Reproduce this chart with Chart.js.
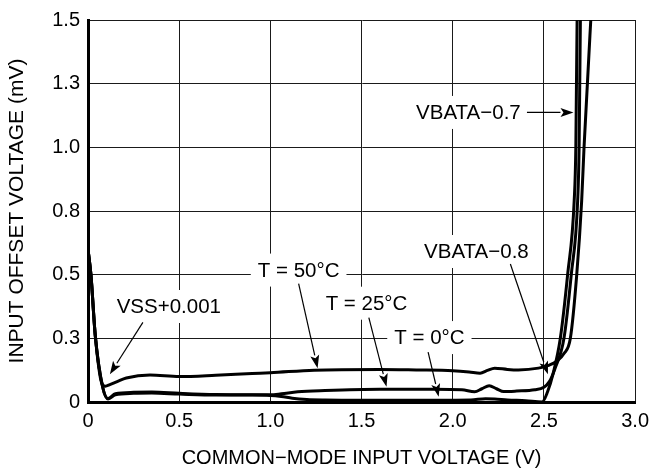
<!DOCTYPE html>
<html><head><meta charset="utf-8">
<script src="https://cdn.jsdelivr.net/npm/chart.js@4.4.1/dist/chart.umd.min.js"></script>
<style>html,body{margin:0;padding:0;background:#fff;overflow:hidden}#wrap{width:656px;height:468px}</style>
</head><body><div id="wrap"><canvas id="c" width="656" height="468"></canvas></div>
<script>
// ---- tick values / labels ----
const xTickValues = [0, 0.5, 1.0, 1.5, 2.0, 2.5, 3.0];
const xTickLabels = ['0', '0.5', '1.0', '1.5', '2.0', '2.5', '3.0'];
const yTickValues = [0, 0.25, 0.5, 0.75, 1.0, 1.25, 1.5];
const yTickLabels = ['0', '0.3', '0.5', '0.8', '1.0', '1.3', '1.5'];

// ---- series (x = common-mode input voltage V, y = input offset voltage mV) ----
const t0X = [0, 0.016, 0.04, 0.08, 0.11, 0.15, 0.25, 0.35, 0.5, 0.7, 0.9, 1.0, 1.06, 1.12, 1.2, 1.3, 1.5, 1.7, 1.9, 2.1, 2.18, 2.23, 2.3, 2.4, 2.49, 2.52, 2.55, 2.59, 2.63, 2.666, 2.675, 2.682, 2.686];
const t0Y = [0.6, 0.5, 0.26, 0.06, 0.012, 0.028, 0.034, 0.035, 0.031, 0.027, 0.027, 0.026, 0.022, 0.015, 0.01, 0.008, 0.007, 0.007, 0.007, 0.008, 0.013, 0.012, 0.008, 0.005, 0.0, 0.04, 0.11, 0.25, 0.5, 0.79, 1.0, 1.5, 1.6];

const t25X = [0, 0.016, 0.04, 0.08, 0.11, 0.15, 0.25, 0.35, 0.5, 0.7, 0.9, 1.0, 1.06, 1.15, 1.3, 1.6, 1.9, 2.05, 2.12, 2.16, 2.2, 2.24, 2.28, 2.35, 2.45, 2.5, 2.53, 2.56, 2.61, 2.65, 2.685, 2.693, 2.70, 2.704];
const t25Y = [0.6, 0.5, 0.26, 0.06, 0.014, 0.033, 0.038, 0.039, 0.034, 0.029, 0.028, 0.028, 0.032, 0.04, 0.045, 0.05, 0.05, 0.048, 0.04, 0.052, 0.064, 0.052, 0.041, 0.043, 0.048, 0.058, 0.08, 0.13, 0.25, 0.5, 0.79, 1.0, 1.5, 1.6];

const t50X = [0, 0.016, 0.04, 0.075, 0.095, 0.12, 0.16, 0.21, 0.34, 0.5, 0.7, 0.9, 1.0, 1.24, 1.6, 1.8, 2.0, 2.09, 2.15, 2.19, 2.23, 2.3, 2.36, 2.47, 2.53, 2.57, 2.61, 2.645, 2.68, 2.707, 2.72, 2.757, 2.765];
const t50Y = [0.6, 0.5, 0.26, 0.075, 0.062, 0.068, 0.08, 0.094, 0.106, 0.10, 0.105, 0.112, 0.115, 0.125, 0.128, 0.126, 0.123, 0.118, 0.113, 0.124, 0.133, 0.128, 0.126, 0.133, 0.145, 0.16, 0.19, 0.25, 0.5, 0.79, 1.0, 1.5, 1.6];

// ---- annotations (data coordinates) ----
const annoText  = ['VSS+0.001', 'T = 50\u00B0C', 'T = 25\u00B0C', 'T = 0\u00B0C', 'VBATA\u22120.8', 'VBATA\u22120.7'];
const annoTextX = [0.443, 1.155, 1.527, 1.872, 2.13, 2.086];
const annoTextY = [0.375, 0.518, 0.388, 0.253, 0.591, 1.137];
const arrowFromX = [0.301, 1.155, 1.54, 1.865, 2.316, 2.407];
const arrowFromY = [0.3125, 0.465, 0.331, 0.196, 0.542, 1.137];
const arrowToX   = [0.120, 1.259, 1.637, 1.923, 2.522, 2.662];
const arrowToY   = [0.109, 0.133, 0.060, 0.021, 0.109, 1.137];

const FONT = "'Liberation Sans', Arial, Helvetica, sans-serif";
const toPts = (xs, ys) => xs.map((x, i) => ({x: x, y: ys[i]}));

const annoPlugin = {
  id: 'anno',
  afterDatasetsDraw(chart) {
    const ctx = chart.ctx, xs = chart.scales.x, ys = chart.scales.y;
    ctx.save();
    ctx.font = "20.5px " + FONT;
    ctx.textAlign = 'center';
    ctx.textBaseline = 'middle';
    annoText.forEach((t, i) => {
      const cx = xs.getPixelForValue(annoTextX[i]);
      const cy = ys.getPixelForValue(annoTextY[i]);
      const w = ctx.measureText(t).width + 14;
      ctx.fillStyle = '#fff';
      ctx.fillRect(cx - w / 2, cy - 16.5, w, 33);
    });
    annoText.forEach((t, i) => {
      const cx = xs.getPixelForValue(annoTextX[i]);
      const cy = ys.getPixelForValue(annoTextY[i]);
      ctx.fillStyle = '#000';
      ctx.fillText(t, cx, cy + 1);
    });
    arrowFromX.forEach((fx, i) => {
      const x1 = xs.getPixelForValue(fx), y1 = ys.getPixelForValue(arrowFromY[i]);
      const x2 = xs.getPixelForValue(arrowToX[i]), y2 = ys.getPixelForValue(arrowToY[i]);
      const a = Math.atan2(y2 - y1, x2 - x1);
      const L = 13, H = 4.5;
      const bx = x2 - L * Math.cos(a), by = y2 - L * Math.sin(a);
      ctx.strokeStyle = '#000';
      ctx.lineWidth = 1.2;
      ctx.beginPath(); ctx.moveTo(x1, y1); ctx.lineTo(bx, by); ctx.stroke();
      ctx.fillStyle = '#000';
      ctx.beginPath();
      ctx.moveTo(x2, y2);
      ctx.lineTo(bx + H * Math.sin(a), by - H * Math.cos(a));
      ctx.lineTo(x2 - (L - 3) * Math.cos(a), y2 - (L - 3) * Math.sin(a));
      ctx.lineTo(bx - H * Math.sin(a), by + H * Math.cos(a));
      ctx.closePath();
      ctx.fill();
    });
    ctx.restore();
  }
};

const ds = (label, xs, ys) => ({
  label: label, data: toPts(xs, ys), borderColor: '#000', backgroundColor: '#000',
  borderWidth: 3, pointRadius: 0, fill: false, cubicInterpolationMode: 'monotone'
});

new Chart(document.getElementById('c'), {
  type: 'line',
  data: { datasets: [ds('T = 0\u00B0C', t0X, t0Y), ds('T = 25\u00B0C', t25X, t25Y), ds('T = 50\u00B0C', t50X, t50Y)] },
  options: {
    responsive: false, animation: false, devicePixelRatio: 1,
    layout: { padding: { top: 18, right: 20, left: 0, bottom: 0 } },
    plugins: { legend: { display: false }, tooltip: { enabled: false } },
    scales: {
      x: {
        type: 'linear', min: 0, max: 3,
        afterBuildTicks: s => { s.ticks = xTickValues.map(v => ({value: v})); },
        afterFit: s => { s.height = 66; },
        ticks: { callback: (v, i) => xTickLabels[i], color: '#000', font: { family: FONT, size: 20 }, padding: 7, maxRotation: 0, autoSkip: false },
        grid: { color: '#1a1a1a', lineWidth: 1, drawTicks: false },
        border: { color: '#000', width: 3 },
        title: { display: true, text: 'COMMON\u2212MODE INPUT VOLTAGE (V)', color: '#000', font: { family: FONT, size: 20, lineHeight: 1 }, padding: { top: 0, bottom: 0 } }
      },
      y: {
        type: 'linear', min: 0, max: 1.5,
        afterBuildTicks: s => { s.ticks = yTickValues.map(v => ({value: v})); },
        afterFit: s => { s.width = 88; },
        ticks: { callback: (v, i) => yTickLabels[i], color: '#000', font: { family: FONT, size: 20 }, padding: 8, autoSkip: false },
        grid: { color: '#1a1a1a', lineWidth: 1, drawTicks: false },
        border: { color: '#000', width: 3 },
        title: { display: true, text: 'INPUT OFFSET VOLTAGE (mV)', color: '#000', font: { family: FONT, size: 21, lineHeight: 1 }, padding: { top: 7, bottom: 0 } }
      }
    }
  },
  plugins: [annoPlugin]
});
</script></body></html>
